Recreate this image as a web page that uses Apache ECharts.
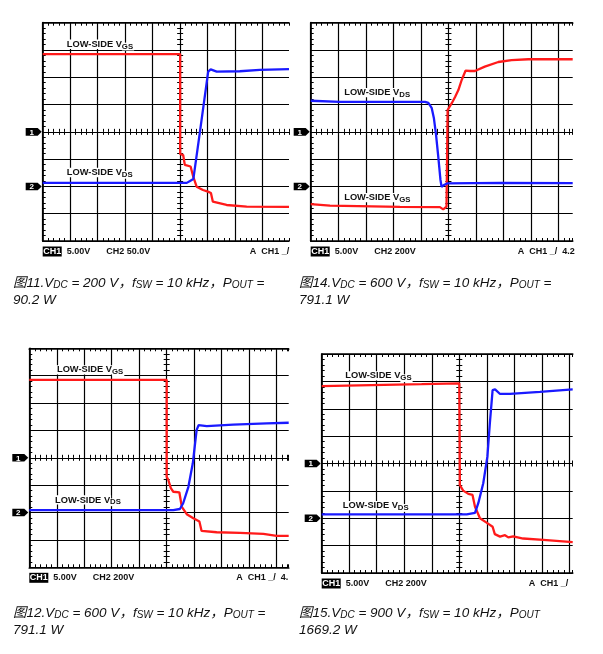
<!DOCTYPE html>
<html><head><meta charset="utf-8">
<script src="https://cdn.jsdelivr.net/npm/echarts@6/dist/echarts.min.js"></script>
<style>html,body{margin:0;padding:0;background:#fff}#c{width:603px;height:654px}</style>
</head><body><div id="c"></div>
<script>
// ---- DATA (oscilloscope divisions: x 0..10 from left, y 0..8 from bottom) ----
// Fig 11
const p1RedX  = [0, 5.00, 5.00, 5.11, 5.17, 5.38, 5.47, 5.60, 5.83, 6.01, 6.12, 6.19, 6.69, 7.42, 8.96];
const p1RedY  = [6.85, 6.85, 3.19, 3.15, 2.79, 2.73, 2.38, 1.99, 1.87, 1.81, 1.76, 1.44, 1.32, 1.26, 1.25];
const p1BlueX = [0, 5.24, 5.36, 5.48, 5.72, 6.02, 6.11, 6.33, 7.17, 7.90, 8.96];
const p1BlueY = [2.13, 2.13, 2.20, 2.27, 4.00, 6.21, 6.29, 6.21, 6.22, 6.27, 6.30];
// Fig 14
const p2RedX  = [0, 0.70, 3.24, 4.69, 4.81, 4.93, 4.97, 4.97, 5.12, 5.24, 5.36, 5.48, 5.62, 5.78, 5.96, 6.32, 6.81, 7.29, 7.90, 9.51];
const p2RedY  = [1.35, 1.30, 1.25, 1.24, 1.16, 1.26, 1.29, 4.80, 5.05, 5.28, 5.53, 5.90, 6.24, 6.23, 6.23, 6.39, 6.56, 6.63, 6.66, 6.66];
const p2BlueX = [0, 1.06, 4.15, 4.27, 4.39, 4.47, 4.55, 4.63, 4.71, 4.75, 4.84, 4.95, 5.02, 6.87, 9.51];
const p2BlueY = [5.14, 5.10, 5.10, 5.06, 4.88, 4.51, 3.89, 3.09, 2.24, 1.99, 2.05, 2.11, 2.13, 2.13, 2.12];
// Fig 12
const p3RedX  = [0, 5.00, 5.00, 5.06, 5.15, 5.24, 5.46, 5.55, 5.73, 5.97, 6.19, 6.27, 6.82, 7.67, 8.52, 9.00, 9.44];
const p3RedY  = [6.85, 6.85, 3.31, 3.19, 2.89, 2.76, 2.74, 2.21, 1.94, 1.79, 1.67, 1.33, 1.28, 1.26, 1.22, 1.15, 1.15];
const p3BlueX = [0, 5.24, 5.48, 5.60, 5.79, 5.95, 6.09, 6.16, 6.46, 7.42, 8.64, 9.44];
const p3BlueY = [2.09, 2.09, 2.13, 2.34, 2.94, 3.80, 5.02, 5.19, 5.16, 5.21, 5.26, 5.28];
// Fig 15
const p4RedX  = [0, 3.63, 5.00, 5.02, 5.02, 5.14, 5.33, 5.48, 5.57, 5.75, 5.99, 6.21, 6.29, 6.48, 6.66, 6.78, 6.96, 7.32, 8.05, 9.12];
const p4RedY  = [6.83, 6.90, 6.93, 6.93, 3.21, 3.01, 2.89, 2.85, 2.42, 2.00, 1.84, 1.69, 1.42, 1.33, 1.38, 1.30, 1.34, 1.26, 1.21, 1.13];
const p4BlueX = [0, 5.27, 5.57, 5.69, 5.87, 6.02, 6.11, 6.21, 6.30, 6.48, 6.84, 7.93, 9.12];
const p4BlueY = [2.14, 2.14, 2.20, 2.55, 3.28, 4.25, 5.47, 6.68, 6.71, 6.54, 6.54, 6.62, 6.71];

const ch2Scales = ['CH2 50.0V', 'CH2 200V', 'CH2 200V', 'CH2 200V'];
const trigTexts = ['A  CH1 _/', 'A  CH1 _/  4.2', 'A  CH1 _/  4.', 'A  CH1 _/'];
const figNums = ['11', '14', '12', '15'];
const vdcs = ['200', '600', '600', '900'];
const pouts = ['90.2', '791.1', '791.1', '1669.2'];
const labelOrder = [['GS', 'DS'], ['DS', 'GS'], ['GS', 'DS'], ['GS', 'DS']];

// ---- LAYOUT ----
const panels = [
  {left: 42.7, top: 22.7, w: 246.3, h: 218.3, xMax: 8.96, lab: [[0.84, 7.21], [0.84, 2.51]], cap: [13, 281.7]},
  {left: 310.7, top: 22.7, w: 262.0, h: 218.3, xMax: 9.51, lab: [[1.18, 5.44], [1.18, 1.59]], cap: [299, 281.7]},
  {left: 29.3, top: 348.3, w: 259.4, h: 219.0, xMax: 9.44, lab: [[0.97, 7.21], [0.90, 2.46]], cap: [13, 611.7]},
  {left: 321.7, top: 354.0, w: 251.0, h: 219.0, xMax: 9.12, lab: [[0.82, 7.20], [0.73, 2.46]], cap: [299, 611.7]}
];
const reds = [[p1RedX, p1RedY], [p2RedX, p2RedY], [p3RedX, p3RedY], [p4RedX, p4RedY]];
const blues = [[p1BlueX, p1BlueY], [p2BlueX, p2BlueY], [p3BlueX, p3BlueY], [p4BlueX, p4BlueY]];
const RED = '#ff1a1a', BLUE = '#1a1aff';
const F = '"Liberation Sans", Arial, "Noto Sans CJK SC", sans-serif';

const zip = (xs, ys) => xs.map((x, k) => [x, ys[k]]);
const chart = echarts.init(document.getElementById('c'), null, {renderer: 'canvas'});

const grids = [], xAxes = [], yAxes = [], series = [], mainX = [], mainY = [];
const tickStyle = {color: '#000', width: 1};
panels.forEach((p, i) => {
  grids.push({left: p.left, top: p.top, width: p.w, height: p.h, containLabel: false});
  const dx = p.w / p.xMax;
  const base = {gridIndex: i, type: 'value', min: 0, silent: true,
    axisLabel: {show: false}, splitLine: {show: false},
    axisTick: {show: false}, axisLine: {show: false, onZero: false}};
  const tk = (inside) => ({show: true, inside: inside, length: 3, lineStyle: tickStyle});
  mainX[i] = xAxes.length;
  xAxes.push(Object.assign({}, base, {max: p.xMax, interval: 1, position: 'bottom',
    axisLine: {show: true, onZero: false, lineStyle: {color: '#000', width: 1.7}},
    splitLine: {show: true, showMaxLine: false, lineStyle: {color: '#000', width: 1.2}}}));
  xAxes.push(Object.assign({}, base, {max: p.xMax, interval: 0.2, position: 'top',
    axisLine: {show: true, onZero: false, lineStyle: {color: '#000', width: 1.7}}, axisTick: tk(true)}));
  xAxes.push(Object.assign({}, base, {max: p.xMax, interval: 0.2, position: 'bottom', axisTick: tk(true)}));
  xAxes.push(Object.assign({}, base, {max: p.xMax, interval: 0.2, position: 'bottom', offset: -p.h / 2, axisTick: tk(true)}));
  xAxes.push(Object.assign({}, base, {max: p.xMax, interval: 0.2, position: 'bottom', offset: -p.h / 2, axisTick: tk(false)}));
  mainY[i] = yAxes.length;
  yAxes.push(Object.assign({}, base, {max: 8, interval: 1, position: 'left',
    axisLine: {show: true, onZero: false, lineStyle: {color: '#000', width: 1.7}},
    splitLine: {show: true, lineStyle: {color: '#000', width: 1.2}}}));
  yAxes.push(Object.assign({}, base, {max: 8, interval: 0.2, position: 'left', axisTick: tk(true)}));
  yAxes.push(Object.assign({}, base, {max: 8, interval: 0.2, position: 'left', offset: -5 * dx, axisTick: tk(true)}));
  yAxes.push(Object.assign({}, base, {max: 8, interval: 0.2, position: 'left', offset: -5 * dx, axisTick: tk(false)}));

  series.push({type: 'line', xAxisIndex: mainX[i], yAxisIndex: mainY[i], data: zip(reds[i][0], reds[i][1]),
    symbol: 'none', lineStyle: {color: RED, width: 2.3}, z: 3, silent: true});
  series.push({type: 'line', xAxisIndex: mainX[i], yAxisIndex: mainY[i], data: zip(blues[i][0], blues[i][1]),
    symbol: 'none', lineStyle: {color: BLUE, width: 2.3}, z: 4, silent: true});
});

chart.setOption({animation: false, backgroundColor: '#fff', grid: grids, xAxis: xAxes, yAxis: yAxes, series: series});

// ---- annotations ----
const mctx = document.createElement('canvas').getContext('2d');
const LAB_MAIN = 9.3, LAB_SUB = 7.8;
mctx.font = 'bold ' + LAB_MAIN + 'px ' + F;
const mainW = mctx.measureText('LOW-SIDE V').width;
const graphics = [];
panels.forEach((p, i) => {
  const px = (v) => chart.convertToPixel({xAxisIndex: mainX[i], yAxisIndex: mainY[i]}, v);
  labelOrder[i].forEach((sub, k) => {
    const pt = px(p.lab[k]);
    graphics.push({type: 'text', z: 50, style: {x: pt[0], y: pt[1], verticalAlign: 'middle', align: 'left',
      text: 'LOW-SIDE V', backgroundColor: '#fff', padding: [0, 1, 0, 1],
      fontSize: LAB_MAIN, fontWeight: 'bold', fontFamily: F, fill: '#111'}});
    graphics.push({type: 'text', z: 50, style: {x: pt[0] + mainW + 1, y: pt[1] + 2.3, verticalAlign: 'middle', align: 'left',
      text: sub, backgroundColor: '#fff', padding: [0, 1, 0, 0],
      fontSize: LAB_SUB, fontWeight: 'bold', fontFamily: F, fill: '#111'}});
  });
  [[4, '1'], [2, '2']].forEach(([yv, t]) => {
    const pt = px([0, yv]);
    const x0 = pt[0] - 1, y0 = pt[1];
    graphics.push({type: 'polygon', z: 50, shape: {points: [[x0 - 16, y0 - 3.8], [x0 - 4, y0 - 3.8], [x0, y0], [x0 - 4, y0 + 3.8], [x0 - 16, y0 + 3.8]]},
      style: {fill: '#000'}});
    graphics.push({type: 'text', z: 51, style: {x: x0 - 10, y: y0 + 0.5, text: t, align: 'center', verticalAlign: 'middle',
      fontSize: 8, fontWeight: 'bold', fontFamily: F, fill: '#fff'}});
  });
  const bl = px([0, 0]);
  const sy = bl[1] + 10.5, sx = bl[0];
  graphics.push({type: 'rect', z: 50, shape: {x: sx, y: sy - 5, width: 19, height: 10}, style: {fill: '#000'}});
  graphics.push({type: 'text', z: 51, style: {x: sx + 9.5, y: sy, text: 'CH1', align: 'center', verticalAlign: 'middle',
    fontSize: 9, fontWeight: 'bold', fontFamily: F, fill: '#fff'}});
  [[24, '5.00V'], [63.5, ch2Scales[i]], [207, trigTexts[i]]].forEach(([ox, t]) => {
    graphics.push({type: 'text', z: 51, style: {x: sx + ox, y: sy, text: t, align: 'left', verticalAlign: 'middle',
      fontSize: 9, fontWeight: 'bold', fontFamily: F, fill: '#111'}});
  });
  const tail = i === 3 ? '' : ' =';
  const capText = '{n|图' + figNums[i] + '.V}{s|DC}{n| = ' + vdcs[i] + ' V，f}{s|SW}{n| = 10 kHz，P}{s|OUT}{n|' + tail + '}\n{n|' + pouts[i] + ' W}';
  graphics.push({type: 'text', z: 51, style: {x: p.cap[0], y: p.cap[1] - 8.3, text: capText, align: 'left', verticalAlign: 'top',
    rich: {n: {fontSize: 13.5, fontStyle: 'italic', fontFamily: F, fill: '#111', lineHeight: 16.6, verticalAlign: 'bottom'},
           s: {fontSize: 10, fontStyle: 'italic', fontFamily: F, fill: '#111', lineHeight: 14.5, verticalAlign: 'bottom'}}}});
});
chart.setOption({graphic: graphics});
</script></body></html>
